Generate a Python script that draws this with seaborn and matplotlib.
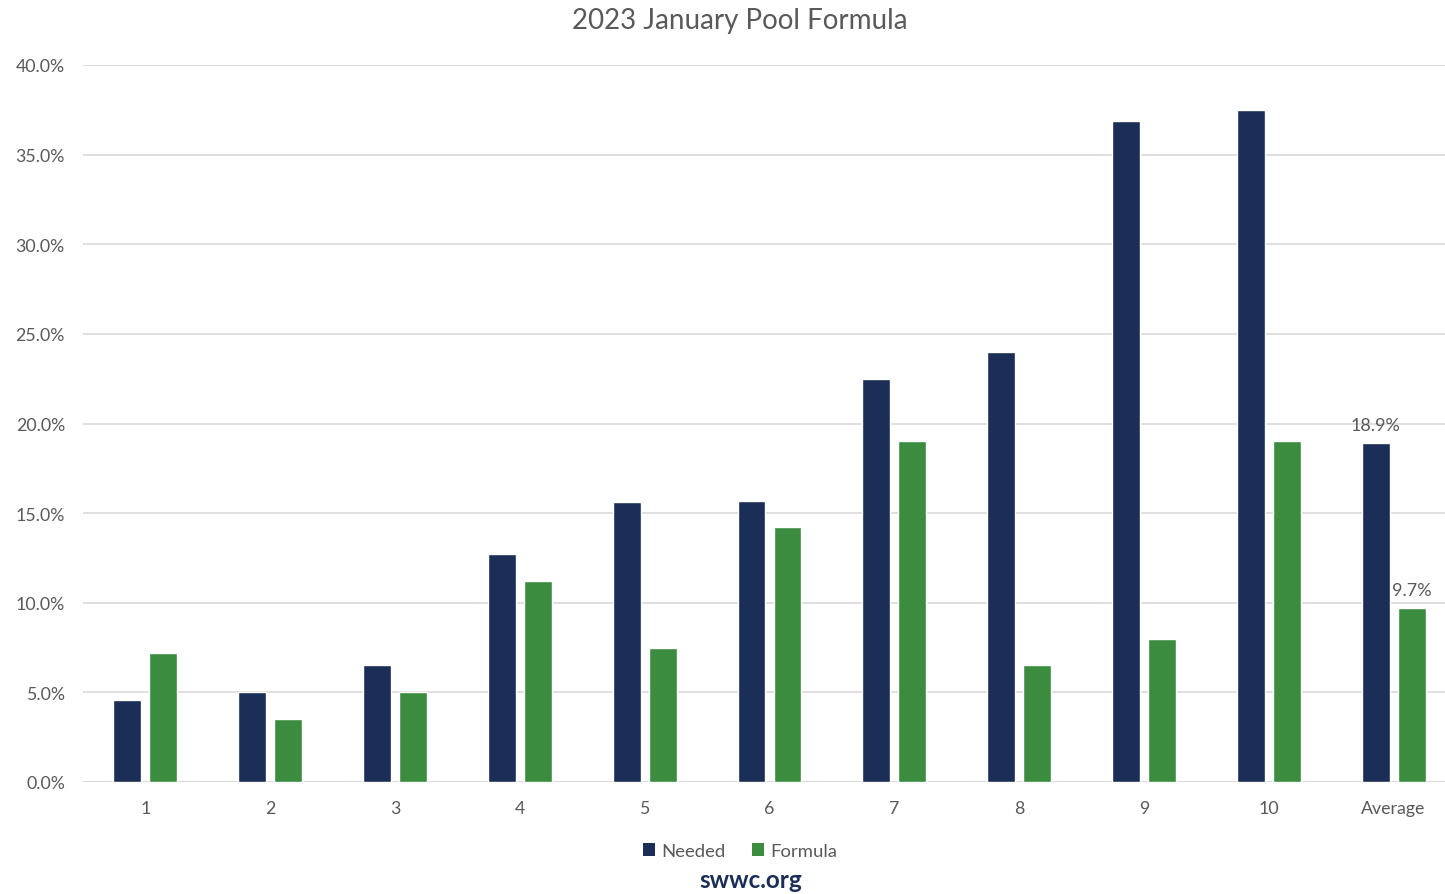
import numpy as np
import pandas as pd
import matplotlib
matplotlib.use("Agg")
import matplotlib.pyplot as plt
import seaborn as sns
from matplotlib.patches import Patch

categories = ["1", "2", "3", "4", "5", "6", "7", "8", "9", "10", "Average"]
needed = [4.6, 5.0, 6.5, 12.7, 15.6, 15.7, 22.5, 24.0, 36.9, 37.5, 18.9]
formula = [7.2, 3.5, 5.0, 11.2, 7.5, 14.2, 19.0, 6.5, 8.0, 19.0, 9.7]
series = ["Needed", "Formula"]
colors = ["#1B2E57", "#3C8C40"]
y_ticks = [0, 5, 10, 15, 20, 25, 30, 35, 40]

df = pd.DataFrame({
    "category": categories * 2,
    "value": needed + formula,
    "series": [series[0]] * len(categories) + [series[1]] * len(categories),
})

sns.set_theme(style="white")
plt.rcParams["font.family"] = ["Lato", "DejaVu Sans"]
text_color = "#595959"
grid_color = "#D9D9D9"

W, H = 1445, 895
fig = plt.figure(figsize=(W / 100, H / 100), dpi=100)
left, right, bottom, top = 83, 1456, 783, 66
ax = fig.add_axes([left / W, (H - bottom) / H, (right - left) / W, (bottom - top) / H])

sns.barplot(data=df, x="category", y="value", hue="series", order=categories,
            hue_order=series, palette=colors, width=0.577, gap=0.224,
            saturation=1, ax=ax, legend=False, errorbar=None)

ax.set_xlim(-0.5, len(categories) - 0.5)
ax.set_ylim(0, 40)
ax.set_yticks(y_ticks)
ax.set_yticklabels([f"{t:.1f}%" for t in y_ticks])
ax.yaxis.grid(True, color=grid_color, linewidth=1.2)
ax.set_axisbelow(True)
for s in ax.spines.values():
    s.set_visible(False)
ax.axhline(0, color=grid_color, linewidth=1.4, zorder=0.5)
ax.set_xlabel("")
ax.set_ylabel("")
ax.tick_params(axis="both", length=0, colors=text_color, labelsize=12.8)
ax.tick_params(axis="x", pad=13)
ax.tick_params(axis="y", pad=13)

# value labels on the Average pair
avg_idx = len(categories) - 1
for container, vals in zip(ax.containers, [needed, formula]):
    bar = container.patches[avg_idx]
    ax.text(bar.get_x() + bar.get_width() / 2, vals[avg_idx] + 0.55,
            f"{vals[avg_idx]:.1f}%", ha="center", va="bottom",
            fontsize=13, color=text_color)

fig.text(740 / W, 1 - 21 / H, "2023 January Pool Formula", ha="center",
         va="center", fontsize=20, color=text_color)

handles = [Patch(facecolor=c, edgecolor="none") for c in colors]
fig.legend(handles, series, loc="center", bbox_to_anchor=(740 / W, 1 - 852 / H),
           ncol=2, frameon=False, fontsize=13.3, labelcolor=text_color,
           handlelength=0.65, handleheight=0.65, handletextpad=0.35, columnspacing=1.4)

fig.text(751 / W, 1 - 881 / H, "swwc.org", ha="center", va="center",
         fontsize=17.5, fontweight="bold", color="#1B2E57")

fig.savefig("out.png", dpi=100)
